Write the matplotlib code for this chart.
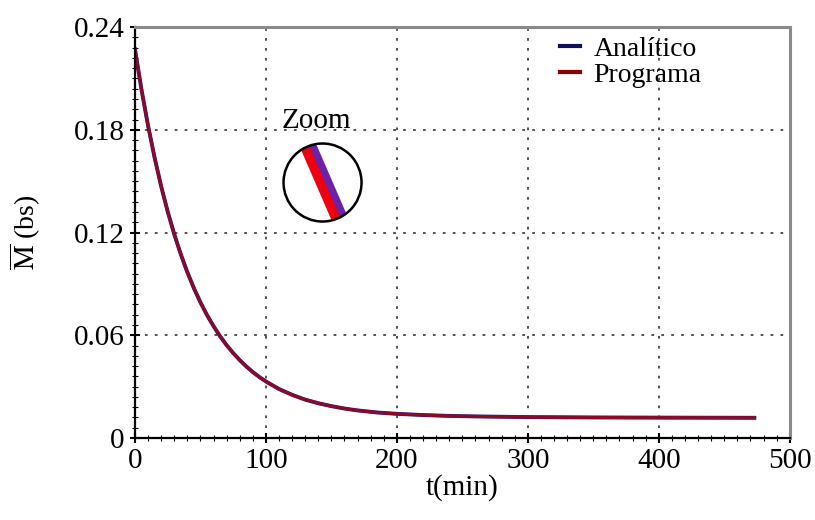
import numpy as np
from matplotlib import pyplot as plt
from matplotlib.patches import Circle
from matplotlib.ticker import MultipleLocator

plt.rcParams['font.family'] = ['Liberation Serif', 'DejaVu Serif']
plt.rcParams['mathtext.fontset'] = 'stix'

# values
t_min = [0, 5, 10, 15, 20, 25, 30, 35, 40, 45, 50, 55, 60, 65, 70, 75, 80,
         85, 90, 95, 100, 110, 120, 130, 140, 150, 160, 170, 185, 200, 220,
         240, 260, 280, 300, 350, 400, 473]
m_analitico = [0.227, 0.2034, 0.1824, 0.1637, 0.1470, 0.1322, 0.1190, 0.1073,
               0.0968, 0.0875, 0.0792, 0.0718, 0.0653, 0.0594, 0.0542,
               0.0496, 0.0455, 0.0418, 0.0385, 0.0356, 0.0330, 0.0286,
               0.0252, 0.0224, 0.0203, 0.0186, 0.0172, 0.0161, 0.0149,
               0.0141, 0.0134, 0.0129, 0.0126, 0.0124, 0.0122, 0.0120,
               0.0119, 0.0118]
m_programa = [0.227, 0.2034, 0.1824, 0.1637, 0.1470, 0.1322, 0.1190, 0.1073,
              0.0968, 0.0875, 0.0792, 0.0718, 0.0653, 0.0594, 0.0542,
              0.0496, 0.0455, 0.0418, 0.0385, 0.0356, 0.0330, 0.0286,
              0.0252, 0.0224, 0.0203, 0.0186, 0.0172, 0.0161, 0.0149,
              0.0141, 0.0134, 0.0129, 0.0126, 0.0124, 0.0122, 0.0120,
              0.0119, 0.0118]
xticks = [0, 100, 200, 300, 400, 500]
yticks = [0, 0.06, 0.12, 0.18, 0.24]
ytick_labels = ['0', '0.06', '0.12', '0.18', '0.24']

fig = plt.figure(figsize=(8.15, 5.2), dpi=100)
ax = fig.add_axes([0.1656, 0.1577, 0.8034, 0.7903])

ax.plot(t_min, m_analitico, color='#2a1a80', lw=2.8, label='Analítico')
ax.plot(t_min, m_programa, color='#8c0a28', lw=2.2, label='Programa')

ax.set_xlim(0, 500)
ax.set_ylim(0, 0.24)
ax.set_xticks(xticks)
ax.set_yticks(yticks)
ax.set_yticklabels(ytick_labels)
ax.xaxis.set_minor_locator(MultipleLocator(10))
ax.yaxis.set_minor_locator(MultipleLocator(0.006))
ax.tick_params(which='major', direction='inout', length=7, width=1.5,
               labelsize=21, colors='black', pad=4)
ax.tick_params(which='minor', direction='inout', length=4, width=0.8)
ax.grid(True, which='major', linestyle=(0, (1.5, 4)), color='#444444', lw=1.3)

for s in ['left', 'bottom']:
    ax.spines[s].set_linewidth(1.6)
    ax.spines[s].set_color('black')
for s in ['top', 'right']:
    ax.spines[s].set_linewidth(2.2)
    ax.spines[s].set_color('#8a8a8a')

ax.set_xlabel('t(min)', fontsize=21, labelpad=0)
ax.set_ylabel(r'$\overline{\mathrm{M}}$ (bs)', fontsize=20, labelpad=22)

leg = ax.legend(loc='upper right', bbox_to_anchor=(0.895, 1.025), frameon=False,
                fontsize=20, handlelength=0.7, handletextpad=0.5,
                labelspacing=0.02, borderaxespad=0.3)
leg.get_lines()[0].set_color('#10105a')
leg.get_lines()[1].set_color('#8b0000')
for ln in leg.get_lines():
    ln.set_linewidth(3)

# schematic zoom circle
ins = fig.add_axes([0.3479, 0.574, 0.0957, 0.15])
ins.set_xlim(-1, 1)
ins.set_ylim(-1, 1)
ins.axis('off')
ins.add_patch(Circle((0, 0), 1, facecolor='white', edgecolor='none',
                     zorder=1))
band_x = np.array([-0.6, 0.7])
band_y = np.array([1.45, -1.55])
clip = Circle((0, 0), 1, transform=ins.transData)
l1 = ins.plot(band_x + 0.11, band_y, color='#6a22a6', lw=6.5, zorder=2)[0]
l2 = ins.plot(band_x - 0.09, band_y, color='#ee0010', lw=6.5, zorder=2)[0]
l1.set_clip_path(clip)
l2.set_clip_path(clip)
ins.add_patch(Circle((0, 0), 1, facecolor='none', edgecolor='black', lw=1.8,
                     zorder=3, clip_on=False))
ax.text(0.277, 0.772, 'Zoom', transform=ax.transAxes, fontsize=21,
        ha='center', va='center')

fig.savefig('out.png', dpi=100)
